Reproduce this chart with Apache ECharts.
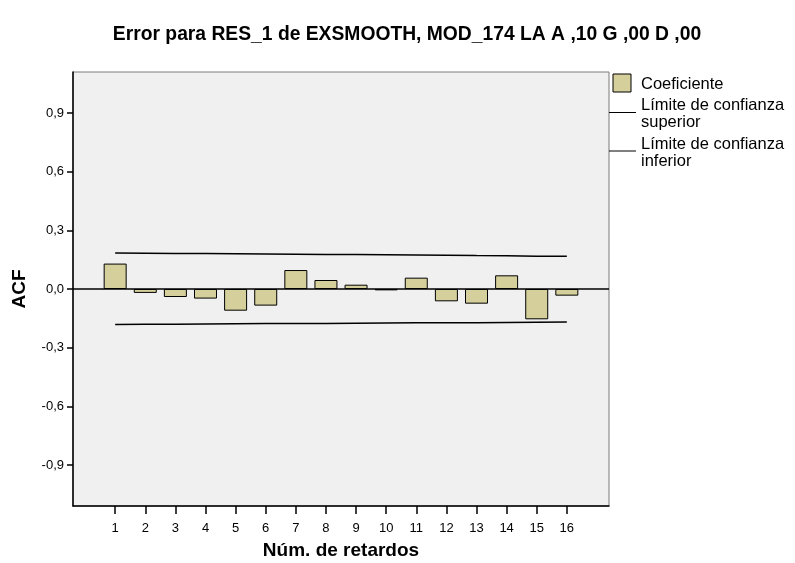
<!DOCTYPE html>
<html>
<head>
<meta charset="utf-8">
<script src="https://cdn.jsdelivr.net/npm/echarts@6/dist/echarts.min.js"></script>
<style>
  html, body { margin: 0; padding: 0; background: #fff; }
  #chart { width: 795px; height: 563px; }
</style>
</head>
<body>
<div id="chart"></div>
<script>
const lags = [1, 2, 3, 4, 5, 6, 7, 8, 9, 10, 11, 12, 13, 14, 15, 16];
const acf = [0.130, -0.020, -0.041, -0.049, -0.111, -0.085, 0.097, 0.046, 0.022, -0.007, 0.058, -0.063, -0.075, 0.070, -0.155, -0.034];
const upperLimit = [0.184, 0.183, 0.182, 0.181, 0.180, 0.179, 0.178, 0.177, 0.176, 0.175, 0.174, 0.173, 0.171, 0.170, 0.168, 0.167];
const lowerLimit = [-0.181, -0.180, -0.180, -0.179, -0.178, -0.177, -0.177, -0.176, -0.175, -0.174, -0.173, -0.172, -0.172, -0.171, -0.170, -0.169];
const yTicks = [-0.9, -0.6, -0.3, 0, 0.3, 0.6, 0.9];

const font = 'Liberation Sans, Arial, Helvetica, sans-serif';
const barColor = '#d4cf9b';

const chart = echarts.init(document.getElementById('chart'));

const option = {
  animation: false,
  title: {
    text: 'Error para RES_1 de EXSMOOTH, MOD_174 LA A ,10 G ,00 D ,00',
    left: 402,
    top: 20,
    textAlign: 'center',
    textStyle: { fontFamily: font, fontSize: 19.3, fontWeight: 'bold', color: '#000' }
  },
  grid: {
    left: 73,
    right: 186,
    top: 72,
    bottom: 57,
    outerBoundsMode: 'none',
    containLabel: false,
    show: true,
    backgroundColor: '#f0f0f0',
    borderColor: '#7a7a7a',
    borderWidth: 1
  },
  xAxis: {
    type: 'value',
    min: -0.4,
    max: 17.4,
    name: 'Núm. de retardos',
    nameLocation: 'middle',
    nameGap: 35,
    nameTextStyle: { fontFamily: font, fontSize: 19, fontWeight: 'bold', color: '#000' },
    axisLine: { onZero: false, lineStyle: { color: '#000', width: 1.5 } },
    axisTick: { customValues: lags, length: 8, lineStyle: { color: '#000', width: 1.5 } },
    axisLabel: {
      customValues: lags,
      margin: 16,
      fontFamily: font, fontSize: 13, color: '#000'
    },
    splitLine: { show: false }
  },
  yAxis: {
    type: 'value',
    min: -1.11,
    max: 1.11,
    name: 'ACF',
    nameLocation: 'middle',
    nameGap: 44,
    nameRotate: 90,
    nameTextStyle: { fontFamily: font, fontSize: 19, fontWeight: 'bold', color: '#000' },
    axisLine: { show: true, onZero: false, lineStyle: { color: '#000', width: 1.5 } },
    axisTick: { show: true, customValues: yTicks, length: 6, lineStyle: { color: '#000', width: 1.5 } },
    axisLabel: {
      customValues: yTicks,
      margin: 9,
      fontFamily: font, fontSize: 13, color: '#000',
      formatter: v => v.toFixed(1).replace('.', ',')
    },
    splitLine: { show: false }
  },
  series: [
    {
      name: 'Coeficiente',
      type: 'bar',
      barWidth: 23,
      data: lags.map((l, i) => [l, acf[i]]),
      itemStyle: { color: barColor, borderColor: '#000', borderWidth: 1 },
      markLine: {
        silent: true,
        symbol: 'none',
        label: { show: false },
        lineStyle: { color: '#000', width: 1.5, type: 'solid' },
        data: [{ yAxis: 0 }]
      },
      z: 2
    },
    {
      name: 'Límite de confianza superior',
      type: 'line',
      data: lags.map((l, i) => [l, upperLimit[i]]),
      showSymbol: false,
      lineStyle: { color: '#000', width: 1.5 },
      z: 3
    },
    {
      name: 'Límite de confianza inferior',
      type: 'line',
      data: lags.map((l, i) => [l, lowerLimit[i]]),
      showSymbol: false,
      lineStyle: { color: '#000', width: 1.5 },
      z: 3
    }
  ],
  graphic: [
    { type: 'rect', shape: { x: 613, y: 74, width: 18, height: 18 },
      style: { fill: barColor, stroke: '#000', lineWidth: 1 } },
    { type: 'text', x: 641, y: 84,
      style: { text: 'Coeficiente', fontFamily: font, fontSize: 16.5, fill: '#000', verticalAlign: 'middle' } },
    { type: 'line', shape: { x1: 609, y1: 112.5, x2: 636, y2: 112.5 },
      style: { stroke: '#000', lineWidth: 1 } },
    { type: 'text', x: 641, y: 114,
      style: { text: 'Límite de confianza\nsuperior', fontFamily: font, fontSize: 16.5, lineHeight: 17, fill: '#000', verticalAlign: 'middle' } },
    { type: 'line', shape: { x1: 609, y1: 151, x2: 636, y2: 151 },
      style: { stroke: '#000', lineWidth: 1 } },
    { type: 'text', x: 641, y: 153,
      style: { text: 'Límite de confianza\ninferior', fontFamily: font, fontSize: 16.5, lineHeight: 17, fill: '#000', verticalAlign: 'middle' } }
  ]
};

chart.setOption(option);
</script>
</body>
</html>
